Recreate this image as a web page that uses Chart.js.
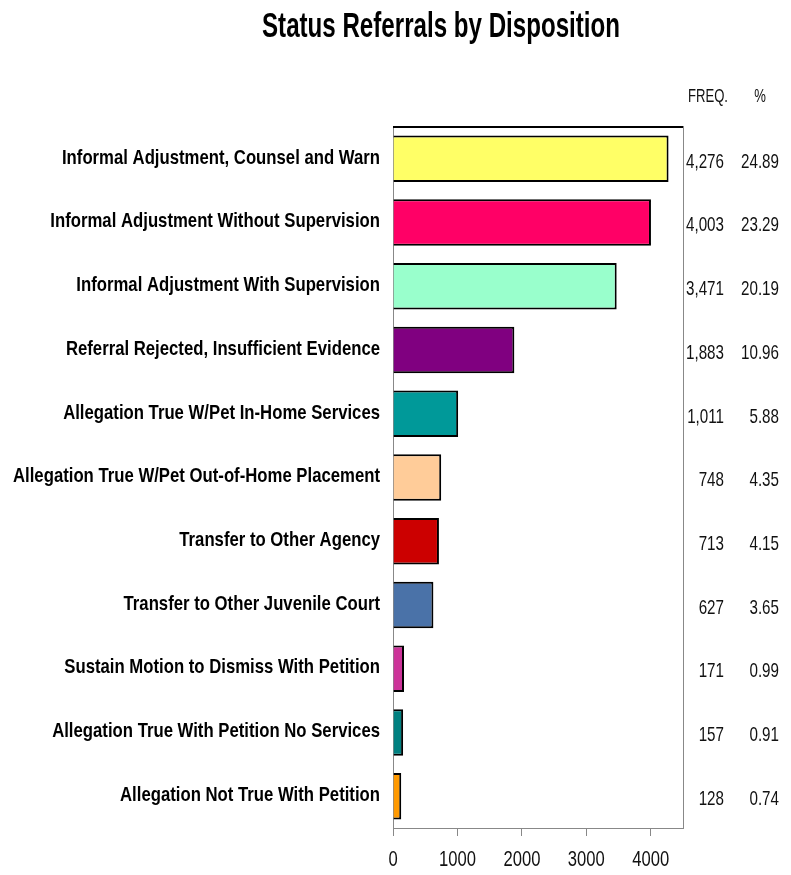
<!DOCTYPE html>
<html>
<head>
<meta charset="utf-8">
<script src="https://cdn.jsdelivr.net/npm/chart.js@4.4.1/dist/chart.umd.min.js"></script>
<style>
  html, body { margin: 0; padding: 0; background: #ffffff; }
  #wrap { width: 791px; height: 875px; position: relative; }
</style>
</head>
<body>
<div id="wrap"><canvas id="c" width="791" height="875"></canvas></div>
<script>
const chartTitle = "Status Referrals by Disposition";
const categories = [
  "Informal Adjustment, Counsel and Warn",
  "Informal Adjustment Without Supervision",
  "Informal Adjustment With Supervision",
  "Referral Rejected, Insufficient Evidence",
  "Allegation True W/Pet In-Home Services",
  "Allegation True W/Pet Out-of-Home Placement",
  "Transfer to Other Agency",
  "Transfer to Other Juvenile Court",
  "Sustain Motion to Dismiss With Petition",
  "Allegation True With Petition No Services",
  "Allegation Not True With Petition"
];
const frequencies = [4276, 4003, 3471, 1883, 1011, 748, 713, 627, 171, 157, 128];
const freqLabels = ["4,276", "4,003", "3,471", "1,883", "1,011", "748", "713", "627", "171", "157", "128"];
const pctLabels = ["24.89", "23.29", "20.19", "10.96", "5.88", "4.35", "4.15", "3.65", "0.99", "0.91", "0.74"];
const barColors = ["#FFFF66", "#FF0066", "#99FFCC", "#800080", "#009999", "#FFCC99", "#CC0000", "#4A72A8", "#CC3399", "#008080", "#FF9900"];
const xTicks = [0, 1000, 2000, 3000, 4000];
const columnHeaders = ["FREQ.", "%"];

const sans = '"Liberation Sans", Arial, sans-serif';

function drawScaled(ctx, text, x, y, align, font, sx) {
  ctx.save();
  ctx.font = font;
  ctx.translate(x, y);
  ctx.scale(sx, 1);
  ctx.textAlign = align;
  ctx.textBaseline = 'middle';
  ctx.fillText(text, 0, 0);
  ctx.restore();
}
function widthOf(ctx, text, font) {
  ctx.save(); ctx.font = font; const w = ctx.measureText(text).width; ctx.restore(); return w;
}

const sidePlugin = {
  id: 'side',
  afterDraw(chart) {
    const ctx = chart.ctx;
    const a = chart.chartArea;
    const ys = chart.scales.y;
    const xs = chart.scales.x;
    ctx.save();
    ctx.fillStyle = '#000';
    // title (condensed bold)
    const tFont = 'bold 35px ' + sans;
    const tScale = 358 / widthOf(ctx, chartTitle, tFont);
    drawScaled(ctx, chartTitle, 441, 27, 'center', tFont, tScale);

    // frame: top black, right gray
    ctx.strokeStyle = '#000';
    ctx.lineWidth = 2;
    ctx.beginPath();
    ctx.moveTo(a.left, a.top);
    ctx.lineTo(a.right + 1, a.top);
    ctx.stroke();
    ctx.strokeStyle = '#888';
    ctx.lineWidth = 1;
    ctx.beginPath();
    ctx.moveTo(a.right + 0.5, a.top - 1);
    ctx.lineTo(a.right + 0.5, a.bottom);
    ctx.stroke();

    // category labels (narrow bold)
    const cFont = 'bold 21px ' + sans;
    const cScale = 367 / widthOf(ctx, categories[5], cFont);
    for (let i = 0; i < categories.length; i++) {
      const y = ys.getPixelForValue(i) - 1;
      drawScaled(ctx, categories[i], a.left - 13, y, 'right', cFont, cScale);
    }

    // x tick labels
    const xFont = '22px ' + sans;
    const xScale = 37 / widthOf(ctx, '1000', xFont);
    ctx.fillStyle = '#111';
    for (const v of xTicks) {
      drawScaled(ctx, String(v), xs.getPixelForValue(v), 860, 'center', xFont, xScale);
    }

    // column headers
    const hFont = '19px ' + sans;
    const hScale = 40 / widthOf(ctx, columnHeaders[0], hFont);
    drawScaled(ctx, columnHeaders[0], 728, 97, 'right', hFont, hScale);
    drawScaled(ctx, columnHeaders[1], 766, 97, 'right', hFont, hScale);

    // values
    const vFont = '21px ' + sans;
    const vScale = 38 / widthOf(ctx, '4,276', vFont);
    for (let i = 0; i < categories.length; i++) {
      const y = ys.getPixelForValue(i) + 3;
      drawScaled(ctx, freqLabels[i], 724, y, 'right', vFont, vScale);
      drawScaled(ctx, pctLabels[i], 779, y, 'right', vFont, vScale);
    }
    ctx.restore();
  }
};

new Chart(document.getElementById('c'), {
  type: 'bar',
  data: {
    labels: categories,
    datasets: [{
      data: frequencies,
      backgroundColor: barColors,
      borderColor: '#000',
      borderWidth: 2,
      borderSkipped: 'start',
      barPercentage: 0.73,
      categoryPercentage: 1.0
    }]
  },
  options: {
    indexAxis: 'y',
    responsive: false,
    animation: false,
    devicePixelRatio: 1,
    layout: { padding: { top: 127, right: 108, left: 0, bottom: 0 } },
    plugins: {
      legend: { display: false },
      title: { display: false },
      tooltip: { enabled: false }
    },
    scales: {
      x: {
        min: 0,
        max: 4500,
        afterBuildTicks(scale) { scale.ticks = xTicks.map(v => ({ value: v })); },
        grid: { display: true, drawOnChartArea: false, drawTicks: true, tickLength: 8, color: '#888' },
        border: { display: true, color: '#888', width: 1 },
        ticks: { display: false },
        afterFit(scale) { scale.height = 875 - 828; }
      },
      y: {
        grid: { display: false },
        border: { display: true, color: '#888', width: 1 },
        ticks: { display: false },
        afterFit(scale) { scale.width = 393; }
      }
    }
  },
  plugins: [sidePlugin]
});
</script>
</body>
</html>
